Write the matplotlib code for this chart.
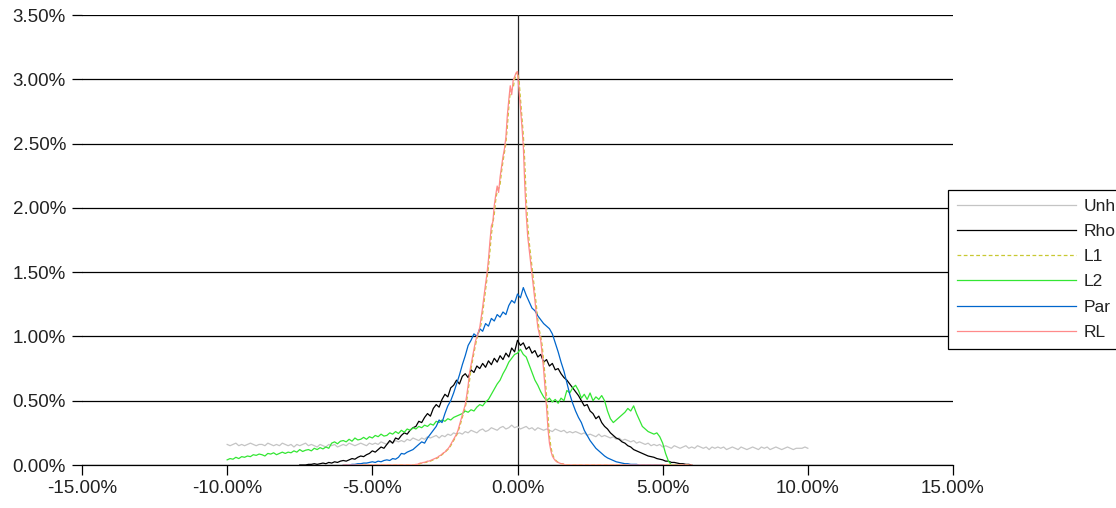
import numpy as np
import matplotlib
matplotlib.use("Agg")
import matplotlib.pyplot as plt
from matplotlib.ticker import FuncFormatter, MultipleLocator

plt.rcParams["font.family"] = ["Liberation Sans", "DejaVu Sans"]

# ---- data (values in percent) ----
# Unh: -10% .. 10%, step 0.1%
unh_x = np.round(np.arange(-10.0, 10.0001, 0.1), 2)
unh = [
    0.16, 0.15, 0.16, 0.17, 0.15, 0.16, 0.15, 0.16, 0.17, 0.16,
    0.15, 0.16, 0.16, 0.15, 0.17, 0.16, 0.15, 0.16, 0.15, 0.17,
    0.16, 0.15, 0.16, 0.14, 0.16, 0.15, 0.16, 0.17, 0.15, 0.16,
    0.15, 0.14, 0.16, 0.15, 0.14, 0.16, 0.15, 0.16, 0.14, 0.15,
    0.16, 0.15, 0.17, 0.16, 0.15, 0.16, 0.17, 0.16, 0.15, 0.17,
    0.16, 0.17, 0.16, 0.18, 0.17, 0.16, 0.18, 0.17, 0.19, 0.18,
    0.19, 0.18, 0.20, 0.19, 0.21, 0.20, 0.19, 0.21, 0.20, 0.22,
    0.21, 0.22, 0.23, 0.21, 0.23, 0.22, 0.24, 0.23, 0.25, 0.24,
    0.25, 0.24, 0.26, 0.25, 0.27, 0.26, 0.25, 0.27, 0.28, 0.26,
    0.27, 0.29, 0.28, 0.27, 0.29, 0.30, 0.28, 0.29, 0.31, 0.29,
    0.30, 0.28, 0.29, 0.30, 0.28, 0.29, 0.27, 0.29, 0.28, 0.27,
    0.28, 0.27, 0.26, 0.28, 0.27, 0.26, 0.27, 0.25, 0.26, 0.25,
    0.26, 0.25, 0.24, 0.25, 0.23, 0.24, 0.23, 0.22, 0.24, 0.22,
    0.23, 0.22, 0.21, 0.22, 0.20, 0.21, 0.19, 0.20, 0.19, 0.18,
    0.19, 0.17, 0.18, 0.17, 0.16, 0.17, 0.15, 0.16, 0.15, 0.16,
    0.14, 0.15, 0.14, 0.13, 0.15, 0.14, 0.13, 0.14, 0.15, 0.13,
    0.14, 0.13, 0.15, 0.14, 0.13, 0.14, 0.12, 0.14, 0.13, 0.14,
    0.13, 0.14, 0.12, 0.13, 0.14, 0.13, 0.12, 0.14, 0.13, 0.12,
    0.13, 0.14, 0.13, 0.12, 0.14, 0.13, 0.14, 0.12, 0.13, 0.14,
    0.13, 0.12, 0.13, 0.14, 0.13, 0.12, 0.13, 0.13, 0.13, 0.14,
    0.13,
]

# Rho: -7.5% .. 6.0%, step 0.1%
rho_x = np.round(np.arange(-7.5, 6.0001, 0.1), 2)
rho = [
    0.00, 0.00, 0.00, 0.005, 0.005, 0.01, 0.005, 0.01, 0.015, 0.01,
    0.02, 0.015, 0.025, 0.02, 0.03, 0.035, 0.03, 0.04, 0.05, 0.045,
    0.06, 0.07, 0.065, 0.08, 0.09, 0.11, 0.10, 0.12, 0.14, 0.13,
    0.16, 0.19, 0.17, 0.21, 0.20, 0.23, 0.25, 0.24, 0.27, 0.29,
    0.30, 0.34, 0.33, 0.37, 0.40, 0.38, 0.44, 0.47, 0.45, 0.51,
    0.55, 0.53, 0.60, 0.62, 0.66, 0.63, 0.69, 0.71, 0.68, 0.74,
    0.72, 0.77, 0.75, 0.79, 0.76, 0.81, 0.78, 0.83, 0.80, 0.85,
    0.82, 0.87, 0.84, 0.91, 0.88, 0.97, 0.93, 0.95, 0.90, 0.92,
    0.87, 0.89, 0.84, 0.86, 0.80, 0.82, 0.77, 0.79, 0.74, 0.75,
    0.71, 0.68, 0.66, 0.63, 0.60, 0.57, 0.54, 0.50, 0.46, 0.47,
    0.42, 0.40, 0.36, 0.38, 0.33, 0.30, 0.28, 0.25, 0.23, 0.21,
    0.20, 0.18, 0.17, 0.15, 0.14, 0.12, 0.11, 0.10, 0.09, 0.08,
    0.07, 0.065, 0.06, 0.05, 0.045, 0.04, 0.03, 0.03, 0.02, 0.02,
    0.015, 0.01, 0.01, 0.005, 0.005, 0.00,
]

# L2: -10% .. 5.5%, step 0.1%
l2_x = np.round(np.arange(-10.0, 5.5001, 0.1), 2)
l2 = [
    0.04, 0.05, 0.045, 0.06, 0.05, 0.065, 0.06, 0.07, 0.065, 0.08,
    0.075, 0.085, 0.08, 0.07, 0.09, 0.085, 0.095, 0.08, 0.09, 0.10,
    0.09, 0.10, 0.095, 0.11, 0.10, 0.12, 0.105, 0.115, 0.12, 0.11,
    0.13, 0.12, 0.135, 0.125, 0.14, 0.13, 0.17, 0.18, 0.165, 0.185,
    0.19, 0.18, 0.20, 0.185, 0.21, 0.195, 0.20, 0.215, 0.20, 0.22,
    0.21, 0.23, 0.22, 0.24, 0.225, 0.23, 0.25, 0.24, 0.26, 0.245,
    0.27, 0.255, 0.28, 0.27, 0.29, 0.28, 0.30, 0.29, 0.31, 0.30,
    0.32, 0.31, 0.34, 0.33, 0.35, 0.34, 0.36, 0.35, 0.37, 0.38,
    0.39, 0.40, 0.42, 0.41, 0.43, 0.42, 0.45, 0.47, 0.46, 0.49,
    0.51, 0.55, 0.59, 0.63, 0.66, 0.71, 0.75, 0.80, 0.83, 0.86,
    0.87, 0.90, 0.86, 0.84, 0.78, 0.72, 0.66, 0.62, 0.57, 0.53,
    0.50, 0.52, 0.49, 0.51, 0.48, 0.52, 0.50, 0.58, 0.56, 0.60,
    0.62, 0.58, 0.52, 0.55, 0.51, 0.56, 0.50, 0.53, 0.51, 0.54,
    0.50, 0.42, 0.36, 0.33, 0.35, 0.37, 0.39, 0.41, 0.44, 0.42,
    0.46, 0.40, 0.35, 0.30, 0.28, 0.26, 0.25, 0.24, 0.25, 0.22,
    0.17, 0.09, 0.03, 0.00, 0.00, 0.00,
]

# Par: -6.0% .. 5.0%, step 0.1%
par_x = np.round(np.arange(-6.0, 5.0001, 0.1), 2)
par = [
    0.00, 0.00, 0.00, 0.005, 0.005, 0.01, 0.01, 0.015, 0.015, 0.02,
    0.025, 0.02, 0.03, 0.025, 0.035, 0.04, 0.035, 0.05, 0.045, 0.06,
    0.09, 0.085, 0.10, 0.11, 0.12, 0.14, 0.16, 0.18, 0.17, 0.21,
    0.24, 0.27, 0.30, 0.35, 0.33, 0.40, 0.46, 0.50, 0.56, 0.63,
    0.70, 0.78, 0.85, 0.93, 0.97, 1.02, 1.00, 1.06, 1.04, 1.10,
    1.08, 1.14, 1.12, 1.17, 1.15, 1.19, 1.17, 1.24, 1.28, 1.26,
    1.33, 1.30, 1.38, 1.32, 1.27, 1.22, 1.20, 1.16, 1.13, 1.10,
    1.08, 1.06, 1.02, 0.95, 0.88, 0.80, 0.73, 0.64, 0.55, 0.48,
    0.42, 0.37, 0.33, 0.27, 0.23, 0.19, 0.16, 0.13, 0.11, 0.09,
    0.07, 0.055, 0.045, 0.035, 0.025, 0.02, 0.015, 0.01, 0.01, 0.005,
    0.005, 0.005, 0.00, 0.00, 0.00, 0.00, 0.00, 0.00, 0.00, 0.00, 0.00,
]

# RL and L1: -6% .. 6%, step 0.05%
peak_x = np.round(np.arange(-6.0, 6.0001, 0.05), 2)
rl = [0.0] * 50 + [
    0.005, 0.005, 0.01, 0.015, 0.015, 0.02, 0.02, 0.025, 0.03, 0.03,
    0.035, 0.04, 0.045, 0.05, 0.055, 0.06, 0.07, 0.075, 0.085, 0.095,
    0.10, 0.115, 0.125, 0.14, 0.16, 0.18, 0.20, 0.22, 0.24, 0.27,
    0.31, 0.35, 0.39, 0.43, 0.47, 0.54, 0.62, 0.72, 0.78, 0.84,
    0.90, 0.96, 1.00, 1.03, 1.07, 1.15, 1.23, 1.32, 1.41, 1.49,
    1.60, 1.74, 1.86, 1.89, 2.02, 2.10, 2.17, 2.12, 2.24, 2.32,
    2.40, 2.46, 2.55, 2.72, 2.84, 2.95, 2.88, 2.99, 3.02, 3.05,
    3.06, 2.92, 2.78, 2.64, 2.48, 2.18, 1.95, 1.78, 1.68, 1.58,
    1.48, 1.38, 1.28, 1.17, 1.07, 1.02, 0.97, 0.86, 0.74, 0.60,
    0.45, 0.28, 0.17, 0.11, 0.07, 0.05, 0.035, 0.025, 0.02, 0.015,
    0.01, 0.01, 0.005,
] + [0.0] * 88
l1 = [0.0] * 50 + [
    0.005, 0.005, 0.005, 0.01, 0.015, 0.015, 0.02, 0.02, 0.025, 0.03,
    0.03, 0.035, 0.04, 0.045, 0.05, 0.055, 0.065, 0.07, 0.08, 0.09,
    0.095, 0.11, 0.12, 0.13, 0.15, 0.17, 0.19, 0.21, 0.23, 0.26,
    0.29, 0.33, 0.37, 0.41, 0.45, 0.50, 0.58, 0.66, 0.75, 0.81,
    0.87, 0.93, 0.98, 1.02, 1.05, 1.10, 1.18, 1.27, 1.36, 1.45,
    1.54, 1.66, 1.79, 1.88, 1.95, 2.06, 2.13, 2.15, 2.18, 2.28,
    2.36, 2.43, 2.50, 2.63, 2.78, 2.90, 2.92, 2.93, 3.00, 3.03,
    3.06, 3.00, 2.86, 2.72, 2.57, 2.36, 2.08, 1.88, 1.74, 1.64,
    1.54, 1.44, 1.34, 1.24, 1.13, 1.05, 1.00, 0.93, 0.81, 0.69,
    0.54, 0.38, 0.23, 0.14, 0.09, 0.06, 0.04, 0.03, 0.02, 0.015,
    0.01, 0.01, 0.005,
] + [0.0] * 88

series = [
    ("Unh", unh_x, unh, "#c4c4c4", "-"),
    ("Rho", rho_x, rho, "#000000", "-"),
    ("L1", peak_x, l1, "#c8c832", (0, (3, 2))),
    ("L2", l2_x, l2, "#33e633", "-"),
    ("Par", par_x, par, "#0066cc", "-"),
    ("RL", peak_x, rl, "#ff8a8a", "-"),
]

x_ticks = [-15, -10, -5, 0, 5, 10, 15]

# ---- figure ----
W, H = 1116, 508
fig = plt.figure(figsize=(W / 100, H / 100), dpi=100)
ax = fig.add_axes([82 / W, 1 - 465 / H, (953 - 82) / W, (465 - 15) / H])

ax.set_xlim(-15, 15)
ax.set_ylim(0, 3.5)
ax.yaxis.set_major_locator(MultipleLocator(0.5))
ax.set_xticks(x_ticks)
fmt = FuncFormatter(lambda v, pos: f"{v:.2f}%")
ax.xaxis.set_major_formatter(fmt)
ax.yaxis.set_major_formatter(fmt)

ax.grid(axis="y", color="#000000", linewidth=0.9, zorder=0)
ax.set_axisbelow(True)
for side in ("top", "right", "left"):
    ax.spines[side].set_visible(False)
ax.spines["bottom"].set_color("#000000")
ax.spines["bottom"].set_linewidth(0.9)
ax.axvline(0, color="#222222", linewidth=0.9, zorder=1)

ax.tick_params(axis="x", direction="out", length=7.5, width=0.9,
               color="#000000", labelsize=13.5, pad=3, labelcolor="#222222")
ax.tick_params(axis="y", direction="out", length=7.5, width=0.9,
               color="#000000", labelsize=13.5, pad=4, labelcolor="#222222")

for name, xs, ys, color, ls in series:
    ax.plot(xs, ys, color=color, linestyle=ls, linewidth=0.9, label=name,
            zorder=3)

leg = fig.legend(loc="upper left", bbox_to_anchor=(948 / W, 1 - 190 / H),
                 frameon=True, fancybox=False, framealpha=1,
                 edgecolor="#000000", fontsize=12.5, handlelength=6.9,
                 handletextpad=0.4, labelspacing=0.58, borderpad=0.5,
                 borderaxespad=0.0)
leg.get_frame().set_linewidth(0.9)
for t in leg.get_texts():
    t.set_color("#222222")

fig.savefig("out.png", dpi=100)
